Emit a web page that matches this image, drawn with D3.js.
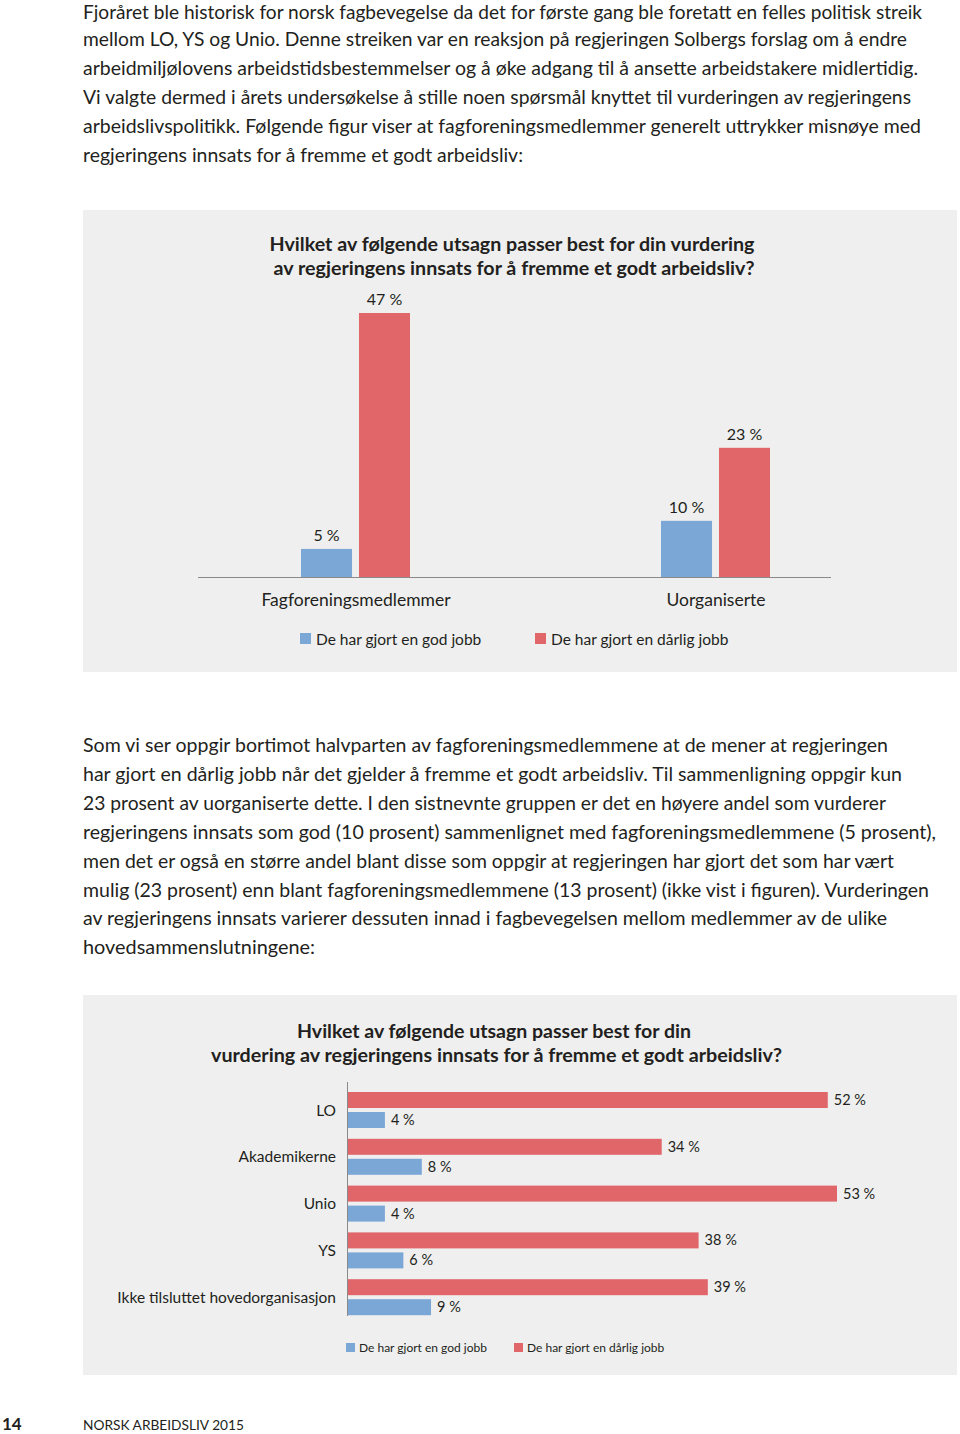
<!DOCTYPE html>
<html><head><meta charset="utf-8">
<script src="https://cdn.jsdelivr.net/npm/d3@7"></script>
<style>
html,body{margin:0;padding:0;background:#fff;}
svg{display:block;}
</style></head>
<body>
<script>
// ---------- DATA ----------
const paragraph1 = [
  "Fjoråret ble historisk for norsk fagbevegelse da det for første gang ble foretatt en felles politisk streik",
  "mellom LO, YS og Unio. Denne streiken var en reaksjon på regjeringen Solbergs forslag om å endre",
  "arbeidmiljølovens arbeidstidsbestemmelser og å øke adgang til å ansette arbeidstakere midlertidig.",
  "Vi valgte dermed i årets undersøkelse å stille noen spørsmål knyttet til vurderingen av regjeringens",
  "arbeidslivspolitikk. Følgende figur viser at fagforeningsmedlemmer generelt uttrykker misnøye med",
  "regjeringens innsats for å fremme et godt arbeidsliv:"
];
const paragraph2 = [
  "Som vi ser oppgir bortimot halvparten av fagforeningsmedlemmene at de mener at regjeringen",
  "har gjort en dårlig jobb når det gjelder å fremme et godt arbeidsliv. Til sammenligning oppgir kun",
  "23 prosent av uorganiserte dette. I den sistnevnte gruppen er det en høyere andel som vurderer",
  "regjeringens innsats som god (10 prosent) sammenlignet med fagforeningsmedlemmene (5 prosent),",
  "men det er også en større andel blant disse som oppgir at regjeringen har gjort det som har vært",
  "mulig (23 prosent) enn blant fagforeningsmedlemmene (13 prosent) (ikke vist i figuren). Vurderingen",
  "av regjeringens innsats varierer dessuten innad i fagbevegelsen mellom medlemmer av de ulike",
  "hovedsammenslutningene:"
];
const chart1Title = ["Hvilket av følgende utsagn passer best for din vurdering",
                     "av regjeringens innsats for å fremme et godt arbeidsliv?"];
const chart1Categories = ["Fagforeningsmedlemmer", "Uorganiserte"];
const chart1Good = [5, 10];
const chart1Bad = [47, 23];

const chart2Title = ["Hvilket av følgende utsagn passer best for din",
                     "vurdering av regjeringens innsats for å fremme et godt arbeidsliv?"];
const chart2Categories = ["LO", "Akademikerne", "Unio", "YS", "Ikke tilsluttet hovedorganisasjon"];
const chart2Good = [4, 8, 4, 6, 9];
const chart2Bad = [52, 34, 53, 38, 39];

const seriesNames = ["De har gjort en god jobb", "De har gjort en dårlig jobb"];
const footerPage = "14";
const footerText = "NORSK ARBEIDSLIV 2015";

// ---------- LAYOUT (not data) ----------
const para1Widths = [839, 824, 835, 828, 838, 440];
const para2Widths = [805, 819, 803, 853, 811, 846, 804, 232];
const BLUE = "#7ba7d6", RED = "#e0666a", GRAY = "#efefef", INK = "#231f20";
const FONT = "Lato, 'Open Sans', sans-serif";

const svg = d3.select("body").append("svg").attr("width", 960).attr("height", 1434);

function txt(g, s, x, y, opt = {}) {
  const t = g.append("text").attr("x", x).attr("y", y).text(s)
    .attr("font-family", FONT).attr("fill", INK)
    .attr("font-size", opt.size || 18)
    .attr("font-weight", opt.weight || 400)
    .attr("text-anchor", opt.anchor || "start");
  if (opt.len) t.attr("textLength", opt.len).attr("lengthAdjust", "spacingAndGlyphs");
  return t;
}

// paragraphs
paragraph1.forEach((l, i) => txt(svg, l, 83, (i === 0 ? 18.5 : 17 + i * 28.9), {size: 19, len: para1Widths[i]}));
paragraph2.forEach((l, i) => txt(svg, l, 83, 752 + i * 28.9, {size: 19, len: para2Widths[i]}));

// ---------- CHART 1 ----------
const g1 = svg.append("g");
g1.append("rect").attr("x", 83).attr("y", 210).attr("width", 874).attr("height", 462).attr("fill", GRAY);
txt(g1, chart1Title[0], 512, 251, {size: 18, weight: 700, anchor: "middle", len: 485});
txt(g1, chart1Title[1], 514, 275, {size: 18, weight: 700, anchor: "middle", len: 481});

const x1 = d3.scaleBand().domain(chart1Categories).range([176, 896]).padding(0);
const xi1 = d3.scaleBand().domain(["good", "bad"]).range([-55, 54]).paddingInner(0.12);
const y1 = d3.scaleLinear().domain([0, 47]).range([577, 313]);

const rows1 = chart1Categories.map((c, i) => ({c, good: chart1Good[i], bad: chart1Bad[i]}));
const grp1 = g1.selectAll(".grp").data(rows1).join("g")
  .attr("transform", d => `translate(${x1(d.c) + x1.bandwidth() / 2},0)`);
["good", "bad"].forEach(k => {
  grp1.append("rect").attr("x", xi1(k)).attr("width", xi1.bandwidth())
    .attr("y", d => y1(d[k])).attr("height", d => y1(0) - y1(d[k]))
    .attr("fill", k === "good" ? BLUE : RED);
  grp1.append("text").attr("x", xi1(k) + xi1.bandwidth() / 2).attr("y", d => y1(d[k]) - 8)
    .attr("text-anchor", "middle").attr("font-family", FONT).attr("font-size", 16).attr("fill", INK)
    .text(d => d[k] + " %");
});
g1.append("line").attr("x1", 198).attr("x2", 831).attr("y1", y1(0) + 0.5).attr("y2", y1(0) + 0.5)
  .attr("stroke", "#8a8a8a").attr("stroke-width", 1.2);
grp1.append("text").attr("x", 0).attr("y", 606).attr("text-anchor", "middle")
  .attr("font-family", FONT).attr("font-size", 17.5).attr("fill", INK).text(d => d.c);

// legend 1
[[300, BLUE, seriesNames[0]], [535, RED, seriesNames[1]]].forEach(([x, col, s]) => {
  g1.append("rect").attr("x", x).attr("y", 633).attr("width", 11).attr("height", 11).attr("fill", col);
  txt(g1, s, x + 16, 644.5, {size: 15.5});
});

// ---------- CHART 2 ----------
const g2 = svg.append("g");
g2.append("rect").attr("x", 83).attr("y", 995).attr("width", 874).attr("height", 380).attr("fill", GRAY);
txt(g2, chart2Title[0], 494, 1038, {size: 18, weight: 700, anchor: "middle", len: 394});
txt(g2, chart2Title[1], 496.5, 1062, {size: 18, weight: 700, anchor: "middle", len: 571});

const x2 = d3.scaleLinear().domain([0, 53]).range([348, 837]);
const y2 = d3.scaleBand().domain(chart2Categories).range([1087, 1321]).padding(0);
const yi2 = d3.scaleBand().domain(["bad", "good"]).range([5, 41]).paddingInner(0.2);

const rows2 = chart2Categories.map((c, i) => ({c, good: chart2Good[i], bad: chart2Bad[i]}));
const grp2 = g2.selectAll(".grp").data(rows2).join("g")
  .attr("transform", d => `translate(0,${y2(d.c)})`);
["bad", "good"].forEach(k => {
  grp2.append("rect").attr("x", x2(0)).attr("y", yi2(k)).attr("height", yi2.bandwidth())
    .attr("width", d => x2(d[k]) - x2(0)).attr("fill", k === "good" ? BLUE : RED);
  grp2.append("text").attr("x", d => x2(d[k]) + 6).attr("y", yi2(k) + yi2.bandwidth() / 2 + 5)
    .attr("font-family", FONT).attr("font-size", 14.5).attr("fill", INK).text(d => d[k] + " %");
});
grp2.append("text").attr("x", 336).attr("y", 28.5).attr("text-anchor", "end")
  .attr("font-family", FONT).attr("font-size", 15.5).attr("fill", INK).text(d => d.c);
g2.append("line").attr("x1", 347.5).attr("x2", 347.5).attr("y1", 1082).attr("y2", 1316)
  .attr("stroke", "#8a8a8a").attr("stroke-width", 1);

// legend 2
[[346, BLUE, seriesNames[0]], [514, RED, seriesNames[1]]].forEach(([x, col, s]) => {
  g2.append("rect").attr("x", x).attr("y", 1343).attr("width", 9).attr("height", 9).attr("fill", col);
  txt(g2, s, x + 13, 1352, {size: 12});
});

// footer
txt(svg, footerPage, 2, 1430, {size: 17, weight: 700});
txt(svg, footerText, 83, 1430, {size: 14, len: 161});
</script>
</body></html>
